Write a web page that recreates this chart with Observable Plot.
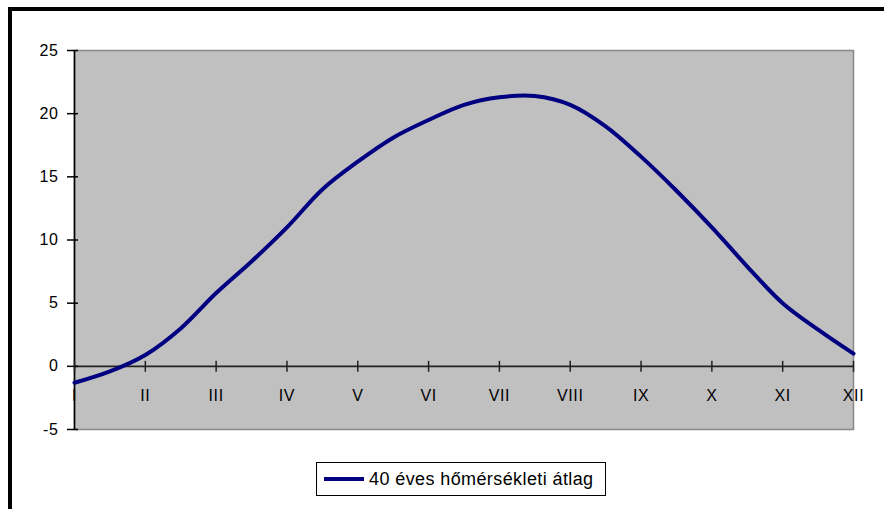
<!DOCTYPE html>
<html>
<head>
<meta charset="utf-8">
<script src="https://cdn.jsdelivr.net/npm/d3@7"></script>
<script src="https://cdn.jsdelivr.net/npm/@observablehq/plot@0.6"></script>
<style>
  html, body { margin: 0; padding: 0; background: white; overflow: hidden; width: 884px; height: 509px; }
  #wrap { position: relative; width: 884px; height: 509px; }
  #border { position: absolute; left: 8px; top: 7px; width: 900px; height: 520px; border-left: 4px solid #000; border-top: 4px solid #000; pointer-events: none; }
  #legend { position: absolute; left: 316px; top: 462px; width: 290px; height: 34px; box-sizing: border-box; border: 1px solid #000; background: #fff; font-family: "Liberation Sans", Arial, sans-serif; font-size: 18px; letter-spacing: 0.4px; display: flex; align-items: center; }
  #legend .sw { display: inline-block; width: 40px; height: 4px; background: #000080; margin-left: 7px; margin-right: 5px; }
  svg text { letter-spacing: 0.6px; }
</style>
</head>
<body>
<div id="wrap"></div>
<script>
// Month category labels and their positions
const months = ["I","II","III","IV","V","VI","VII","VIII","IX","X","XI","XII"];
const monthPos = [0,1,2,3,4,5,6,7,8,9,10,11];
// Half-month sample positions (in month units) and 40-year average temperatures
const samplePos = [0,0.5,1,1.5,2,2.5,3,3.5,4,4.5,5,5.5,6,6.5,7,7.5,8,8.5,9,9.5,10,10.5,11];
const temps = [-1.3,-0.4,0.9,3.0,5.8,8.3,11.0,14.0,16.2,18.1,19.5,20.7,21.3,21.4,20.7,19.0,16.6,13.9,11.0,7.9,5.0,2.9,1.0];
const yTicks = [-5,0,5,10,15,20,25];
const seriesName = "40 éves hőmérsékleti átlag";

const data = samplePos.map((p, i) => ({x: p, y: temps[i]}));

const chart = Plot.plot({
  width: 884,
  height: 509,
  marginLeft: 74,
  marginRight: 31,
  marginTop: 50,
  marginBottom: 80,
  style: {background: "transparent", fontFamily: "'Liberation Sans', Arial, sans-serif", fontSize: "16px", color: "#000"},
  x: {type: "linear", domain: [0, 11], axis: null},
  y: {domain: [-5, 25], ticks: yTicks, axis: null},
  marks: [
    Plot.frame({fill: "#c0c0c0", stroke: "#888888", strokeWidth: 1.5}),
    Plot.ruleY([0], {stroke: "#222", strokeWidth: 1.6}),
    Plot.ruleX([0], {stroke: "#000", strokeWidth: 1.6}),
    Plot.ruleY(yTicks, {x1: 0, x2: 0, insetLeft: -7, insetRight: -4, stroke: "#000", strokeWidth: 1.5}),
    Plot.ruleX(monthPos, {y1: 0, y2: 0, insetTop: -5, insetBottom: -6, stroke: "#222", strokeWidth: 1.5}),
    Plot.axisY(yTicks, {tickSize: 0, tickPadding: 16, label: null, fontSize: 16, tickFormat: d => String(d)}),
    Plot.text(months, {x: monthPos, y: [0,0,0,0,0,0,0,0,0,0,0,0], dy: 30, text: d => d, fontSize: 16, fill: "#000", textAnchor: "middle", lineAnchor: "middle"}),
    Plot.line(data, {x: "x", y: "y", stroke: "#000080", strokeWidth: 4, curve: "catmull-rom", strokeLinejoin: "round"})
  ]
});

const wrap = document.getElementById("wrap");
chart.style.position = "absolute";
chart.style.left = "0px";
chart.style.top = "0px";
wrap.appendChild(chart);

const legend = document.createElement("div");
legend.id = "legend";
legend.innerHTML = '<span class="sw"></span><span class="lt"></span>';
legend.querySelector(".lt").textContent = seriesName;
wrap.appendChild(legend);

const border = document.createElement("div");
border.id = "border";
wrap.appendChild(border);
</script>
</body>
</html>
